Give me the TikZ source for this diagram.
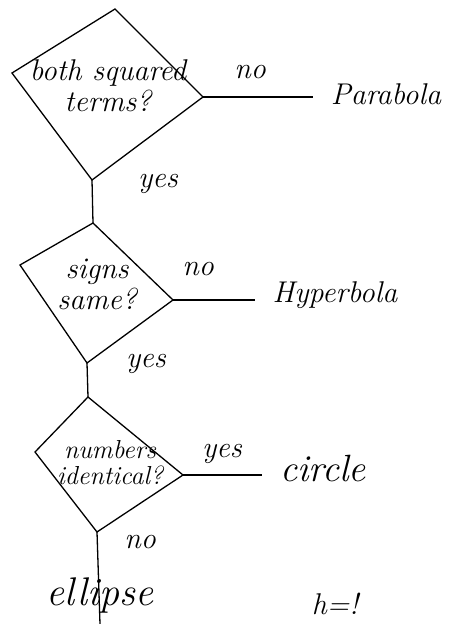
\documentclass[tikz,border=0pt]{standalone}
\usepackage{tikz}

\begin{document}
\begin{tikzpicture}[x=1pt,y=-1pt,line width=1.3pt,
  hand/.style={font=\fontsize{30}{31}\selectfont\itshape},
  small hand/.style={font=\fontsize{30}{31}\selectfont\itshape},
  link/.style={shorten >=14pt}]
\clip (0,0) rectangle (458,624);

% first question
\coordinate (q1t) at (115,9);
\coordinate (q1r) at (203,97);
\coordinate (q1b) at (92,180);
\coordinate (q1l) at (12,73);
\draw (q1l) -- (q1t) -- (q1r) -- (q1b) -- cycle;
\node[hand,align=center] (q1) at (108,86) {both squared\\terms?};

\node[hand] (parabola) at (386,94) {Parabola};
\draw[link] (q1r) -- (q1r -| parabola.west);
\node[small hand] (no1) at (250,72) {no};

% second question
\coordinate (q2t) at (93,223);
\coordinate (q2r) at (173,300);
\coordinate (q2b) at (87,363);
\coordinate (q2l) at (20,265);
\draw (q1b) -- (q2t);
\node[small hand] (yes1) at (158,184) {yes};
\draw (q2l) -- (q2t) -- (q2r) -- (q2b) -- cycle;
\node[hand,align=center] (q2) at (97,284) {signs\\same?};

\node[hand] (hyperbola) at (335,295) {Hyperbola};
\draw[link] (q2r) -- (q2r -| hyperbola.west);
\node[small hand] (no2) at (198,269) {no};

% third question
\coordinate (q3t) at (88,397);
\coordinate (q3r) at (183,475);
\coordinate (q3b) at (97,532);
\coordinate (q3l) at (35,452);
\draw (q2b) -- (q3t);
\node[small hand] (yes2) at (146,364) {yes};
\draw (q3l) -- (q3t) -- (q3r) -- (q3b) -- cycle;
\node[align=center,font=\fontsize{26}{26}\selectfont\itshape] (q3) at (110,463) {numbers\\identical?};

\node[hand,font=\fontsize{38}{40}\selectfont\itshape] (circle) at (323,468) {circle};
\draw[link] (q3r) -- (q3r -| circle.west);
\node[small hand] (yes3) at (222,454) {yes};

\coordinate (end) at (100,624);
\draw (q3b) -- (end);
\node[small hand] (no3) at (140,542) {no};
\node[font=\fontsize{40}{42}\selectfont\itshape] (ellipse) at (100,595) {ellipse};

\node[small hand] (h) at (335,604) {h=!};
\end{tikzpicture}
\end{document}
